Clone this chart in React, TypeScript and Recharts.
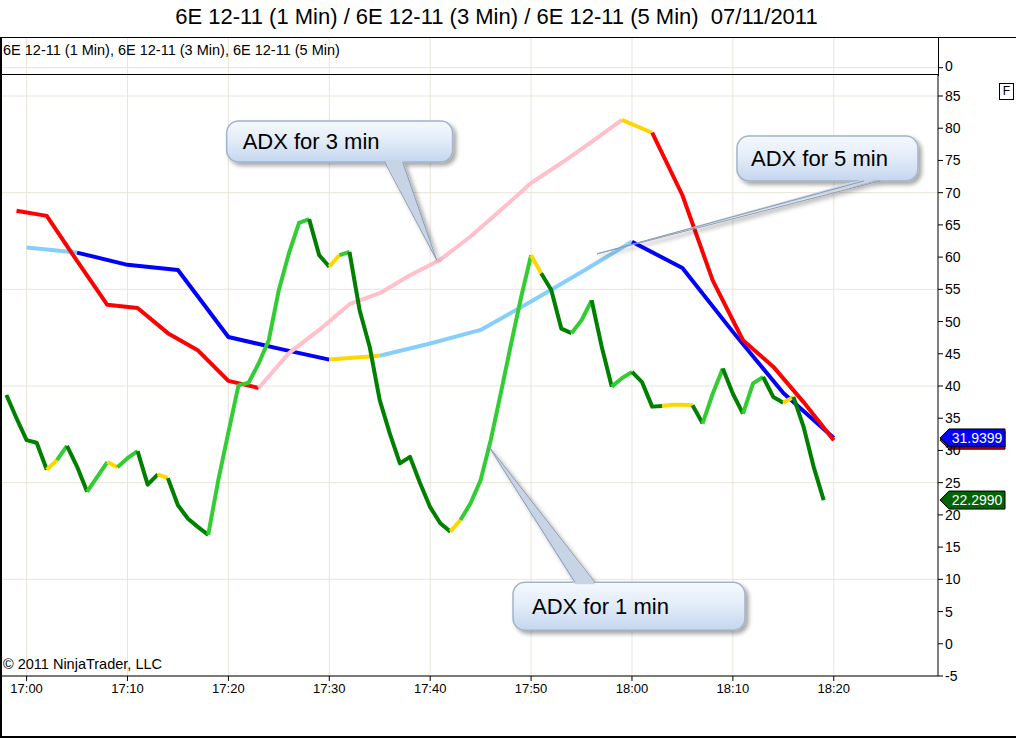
import React from "react";
import { LineChart, Line, XAxis, YAxis, ReferenceLine, ReferenceDot } from "recharts";

// minutes relative to 17:00
const min1 = [
  -2, -1, 0, 1, 2, 3, 4, 5, 6, 7, 8, 9, 10, 11, 12, 13, 14, 15, 16, 17, 18, 19,
  20, 21, 22, 23, 24, 25, 26, 27, 28, 29, 30, 31, 32, 33, 34, 35, 36, 37, 38, 39,
  40, 41, 42, 43, 44, 45, 46, 47, 48, 49, 50, 51, 52, 53, 54, 55, 56, 57, 58, 59,
  60, 61, 62, 63, 64, 65, 66, 67, 68, 69, 70, 71, 72, 73, 74, 75, 76, 77, 78, 79,
];
const adx1 = [
  38.6, 35.0, 31.6, 31.2, 27.0, 28.5, 30.7, 27.5, 23.6, 25.9, 28.2, 27.4, 28.8, 29.9, 24.7, 26.3,
  25.7, 21.5, 19.4, 18.1, 16.9, 25.4, 32.8, 40.1, 40.5, 43.5, 47.1, 54.9, 60.6, 65.3, 65.9, 60.3,
  58.5, 60.3, 60.8, 51.8, 46.1, 37.8, 32.6, 28.0, 29.0, 24.9, 21.2, 18.7, 17.4, 19.2, 21.8, 25.4,
  31.6, 38.9, 46.4, 53.7, 60.3, 57.5, 54.9, 48.9, 48.2, 50.2, 53.3, 46.1, 39.9, 41.2, 42.2, 40.6,
  36.8, 36.9, 37.1, 37.1, 37.0, 34.2, 38.8, 42.7, 38.8, 35.7, 40.4, 41.4, 38.3, 37.4, 38.3, 33.7,
  27.5, 22.299,
];
// colour of each segment (D falling, L rising, Y flat)
const adx1Seg = "DDDDYLDDLLYLLDDYDDDDLLLLLLLLLLDDYLDDDDDDDDDDYLLLLLLLYDDDLLDDLLDDDYYYDLLDDLLDDYDDD";

const min3 = [-1, 2, 5, 8, 11, 14, 17, 20, 23, 26, 29, 32, 35, 38, 41, 44, 47, 50, 53, 56, 59, 62, 65, 68, 71, 74, 77, 80];
const adx3 = [
  67.2, 66.4, 59.4, 52.6, 52.1, 48.2, 45.5, 40.8, 39.7, 45.1, 48.7, 52.7, 54.4, 57.2,
  59.6, 63.2, 67.3, 71.5, 74.6, 77.9, 81.3, 79.3, 69.6, 56.4, 47.1, 43.0, 37.5, 31.6,
];
const adx3Seg = "RRRRRRRRPPPPPPPPPPPPYRRRRRR";

const min5 = [0, 5, 10, 15, 20, 25, 30, 35, 40, 45, 50, 55, 60, 65, 70, 75, 80];
const adx5 = [61.5, 60.7, 58.8, 58.0, 47.6, 45.8, 44.1, 44.7, 46.6, 48.7, 53.1, 57.7, 62.4, 58.3, 48.4, 38.9, 31.9399];
const adx5Seg = "SBBBBBYSSSSSBBBB";

const tickMinutes = [0, 10, 20, 30, 40, 50, 60, 70, 80];
const timeLabels = ["17:00", "17:10", "17:20", "17:30", "17:40", "17:50", "18:00", "18:10", "18:20"];
const yTicks = [-5, 0, 5, 10, 15, 20, 25, 30, 35, 40, 45, 50, 55, 60, 65, 70, 75, 80, 85];
const gridY = [-5, 10, 25, 40, 55, 70, 85];

const TITLE = "6E 12-11 (1 Min) / 6E 12-11 (3 Min) / 6E 12-11 (5 Min)  07/11/2011";
const PANEL_LABEL = "6E 12-11 (1 Min), 6E 12-11 (3 Min), 6E 12-11 (5 Min)";

const callouts = [
  { id: "c3", text: "ADX for 3 min", m: 40.64, v: 59.55 },
  { id: "c5", text: "ADX for 5 min", m: 56.53, v: 60.5 },
  { id: "c1", text: "ADX for 1 min", m: 45.73, v: 30.8 },
];
// box offsets from the pointer tip: [dx, dy, w, h], pointer base x offsets, edge
const calloutLayout: Record<string, any> = {
  c3: { box: [-210, -139, 226, 41], base: [-52, -34], edge: "bottom", pad: 16 },
  c5: { box: [140, -118, 181, 45], base: [267, 283], edge: "bottom", pad: 14 },
  c1: { box: [25, 137, 232, 48], base: [87, 107], edge: "top", pad: 19 },
};

const PALETTE: Record<string, string> = {
  D: "#008000", L: "#32cd32", Y: "#ffd700",
  R: "#ff0000", P: "#ffc0cb",
  B: "#0000ff", S: "#87cefa",
};

const FONT = "'Liberation Sans', Arial, sans-serif";
const W = 1016;
const H = 738;
const X_DOMAIN: [number, number] = [-2.537, 90.33];
const Y_DOMAIN: [number, number] = [-5, 88.26];
const GRID = "#e9e5d9";

type Run = { key: string; color: string; from: number; to: number };

function buildRuns(prefix: string, seg: string): Run[] {
  const runs: Run[] = [];
  let cur: Run | null = null;
  for (let s = 0; s < seg.length; s++) {
    const c = seg[s];
    if (!cur || cur.color !== c) {
      cur = { key: `${prefix}${runs.length}`, color: c, from: s, to: s + 1 };
      runs.push(cur);
    } else cur.to = s + 1;
  }
  return runs;
}

const series = [
  { mins: min5, vals: adx5, runs: buildRuns("f", adx5Seg) },
  { mins: min3, vals: adx3, runs: buildRuns("t", adx3Seg) },
  { mins: min1, vals: adx1, runs: buildRuns("o", adx1Seg) },
];

const allMins = Array.from(new Set([...min1, ...min3, ...min5])).sort((a, b) => a - b);
const rowByMin: Record<number, any> = {};
const table = allMins.map((m) => (rowByMin[m] = { m }));
series.forEach((s) =>
  s.runs.forEach((r) => {
    for (let i = r.from; i <= r.to; i++) rowByMin[s.mins[i]][r.key] = s.vals[i];
  })
);

function Callout(props: any) {
  const { cx, cy, c } = props;
  const lay = calloutLayout[c.id];
  const [dx, dy, w, h] = lay.box;
  const x = cx + dx;
  const y = cy + dy;
  const edgeY = lay.edge === "bottom" ? y + h : y;
  const inside = lay.edge === "bottom" ? -2 : 2;
  const b1 = cx + lay.base[0];
  const b2 = cx + lay.base[1];
  const gid = `grad-${c.id}`;
  return (
    <g>
      <defs>
        <linearGradient id={gid} x1="0" y1="0" x2="0" y2="1">
          <stop offset="0" stopColor="#f6f9fe" />
          <stop offset="0.5" stopColor="#e1ebf8" />
          <stop offset="1" stopColor="#c4d6ee" />
        </linearGradient>
        <filter id={`${gid}-s`} x="-30%" y="-30%" width="160%" height="180%">
          <feDropShadow dx="3" dy="3" stdDeviation="2.2" floodColor="#000" floodOpacity="0.35" />
        </filter>
      </defs>
      <g filter={`url(#${gid}-s)`}>
        <rect x={x} y={y} width={w} height={h} rx={12} fill={`url(#${gid})`} stroke="#a3b3c8" strokeWidth={1.5} />
        <polygon points={`${b1},${edgeY + inside} ${cx},${cy} ${b2},${edgeY + inside}`} fill="#c7d4e5" />
        <polyline points={`${b1},${edgeY} ${cx},${cy} ${b2},${edgeY}`} fill="none" stroke="#8d9db3" strokeWidth={1} />
      </g>
      <text x={x + lay.pad} y={y + h / 2} dy="0.36em" fontSize={22} fill="#000" fontFamily={FONT}>
        {c.text}
      </text>
    </g>
  );
}

function PriceTag(props: any) {
  const { cx, cy, fill, label } = props;
  const x0 = cx + 2;
  return (
    <g>
      <polygon
        points={`${x0},${cy} ${x0 + 9},${cy - 9} ${x0 + 65},${cy - 9} ${x0 + 65},${cy + 9} ${x0 + 9},${cy + 9}`}
        fill={fill}
        stroke="#000"
        strokeWidth={1}
      />
      {label ? (
        <text x={x0 + 37} y={cy} dy="0.36em" textAnchor="middle" fontSize={14} fill="#fff" fontFamily={FONT}>
          {label}
        </text>
      ) : null}
    </g>
  );
}

const lastOf = (a: number[]) => a[a.length - 1];

export default function App() {
  return (
    <div
      style={{
        position: "absolute", left: 0, top: 0, width: W, height: H,
        background: "#fff", fontFamily: FONT, overflow: "hidden", color: "#000",
      }}
    >
      <div style={{ position: "absolute", left: 0, top: 4, width: 993, textAlign: "center", fontSize: 22, whiteSpace: "pre" }}>
        {TITLE}
      </div>

      {/* upper (label) panel */}
      <div style={{ position: "absolute", left: 0, top: 38 }}>
        <LineChart width={W} height={36} data={table} margin={{ top: 0, right: 8, bottom: 0, left: 1 }}>
          <XAxis type="number" dataKey="m" domain={X_DOMAIN} allowDataOverflow hide />
          <YAxis
            orientation="right" width={70} domain={[-0.212, 1]} ticks={[0]} allowDataOverflow
            tickSize={5} tickMargin={2} axisLine={false}
            tickLine={{ stroke: "#000" }} tick={{ fill: "#000", fontSize: 14 }}
          />
          {tickMinutes.map((m) => (
            <ReferenceLine key={m} x={m} stroke={GRID} strokeWidth={1} />
          ))}
          <ReferenceLine y={0} stroke={GRID} strokeWidth={1} />
          <Line dataKey="none" stroke="none" dot={false} isAnimationActive={false} />
        </LineChart>
      </div>

      {/* main panel */}
      <div style={{ position: "absolute", left: 0, top: 0 }}>
        <LineChart width={W} height={H} data={table} margin={{ top: 75, right: 8, bottom: 0, left: 1 }}>
          <XAxis
            type="number" dataKey="m" domain={X_DOMAIN} allowDataOverflow ticks={tickMinutes}
            tickFormatter={(v: number) => timeLabels[tickMinutes.indexOf(v)]}
            height={62} tickSize={5} tickMargin={3}
            axisLine={{ stroke: "#000" }} tickLine={{ stroke: "#000" }}
            tick={{ fill: "#000", fontSize: 13 }}
          />
          <YAxis
            orientation="right" width={70} domain={Y_DOMAIN} ticks={yTicks} allowDataOverflow
            tickSize={5} tickMargin={2}
            axisLine={{ stroke: "#000" }} tickLine={{ stroke: "#000" }}
            tick={{ fill: "#000", fontSize: 14 }}
          />
          {tickMinutes.map((m) => (
            <ReferenceLine key={`vx${m}`} x={m} stroke={GRID} strokeWidth={1} />
          ))}
          {gridY.map((v) => (
            <ReferenceLine key={`hy${v}`} y={v} stroke={GRID} strokeWidth={1} />
          ))}
          {series.map((s) =>
            s.runs.map((r) => (
              <Line
                key={r.key} dataKey={r.key} stroke={PALETTE[r.color]} strokeWidth={4}
                strokeLinejoin="round" dot={false} activeDot={false} connectNulls
                isAnimationActive={false}
              />
            ))
          )}
          {callouts.map((c) => (
            <ReferenceDot
              key={c.id} x={c.m} y={c.v} ifOverflow="visible"
              shape={(p: any) => <Callout {...p} c={c} />}
            />
          ))}
          <ReferenceDot
            x={X_DOMAIN[1]} y={lastOf(adx3)} ifOverflow="visible"
            shape={(p: any) => <PriceTag {...p} fill="#ff0000" />}
          />
          <ReferenceDot
            x={X_DOMAIN[1]} y={lastOf(adx5)} ifOverflow="visible"
            shape={(p: any) => <PriceTag {...p} fill="#0000ff" label={lastOf(adx5).toFixed(4)} />}
          />
          <ReferenceDot
            x={X_DOMAIN[1]} y={lastOf(adx1)} ifOverflow="visible"
            shape={(p: any) => <PriceTag {...p} fill="#006400" label={lastOf(adx1).toFixed(4)} />}
          />
        </LineChart>
      </div>

      {/* frame */}
      <div style={{ position: "absolute", left: 0, top: 37, width: W, height: 1, background: "#000" }} />
      <div style={{ position: "absolute", left: 0, top: 37, width: 2, height: H - 37, background: "#000" }} />
      <div style={{ position: "absolute", left: 0, top: H - 2, width: W, height: 2, background: "#000" }} />
      <div style={{ position: "absolute", left: 0, top: 74, width: 939, height: 1, background: "#000" }} />
      <div style={{ position: "absolute", left: 938, top: 37, width: 1, height: 39, background: "#000" }} />

      <div style={{ position: "absolute", left: 3, top: 42, fontSize: 14.5, whiteSpace: "pre" }}>{PANEL_LABEL}</div>
      <div style={{ position: "absolute", left: 3, top: 656, fontSize: 14.5, whiteSpace: "pre" }}>© 2011 NinjaTrader, LLC</div>
      <div
        style={{
          position: "absolute", left: 999, top: 83, width: 13, height: 15, border: "1px solid #000",
          fontSize: 12, lineHeight: "15px", textAlign: "center",
        }}
      >
        F
      </div>
    </div>
  );
}
